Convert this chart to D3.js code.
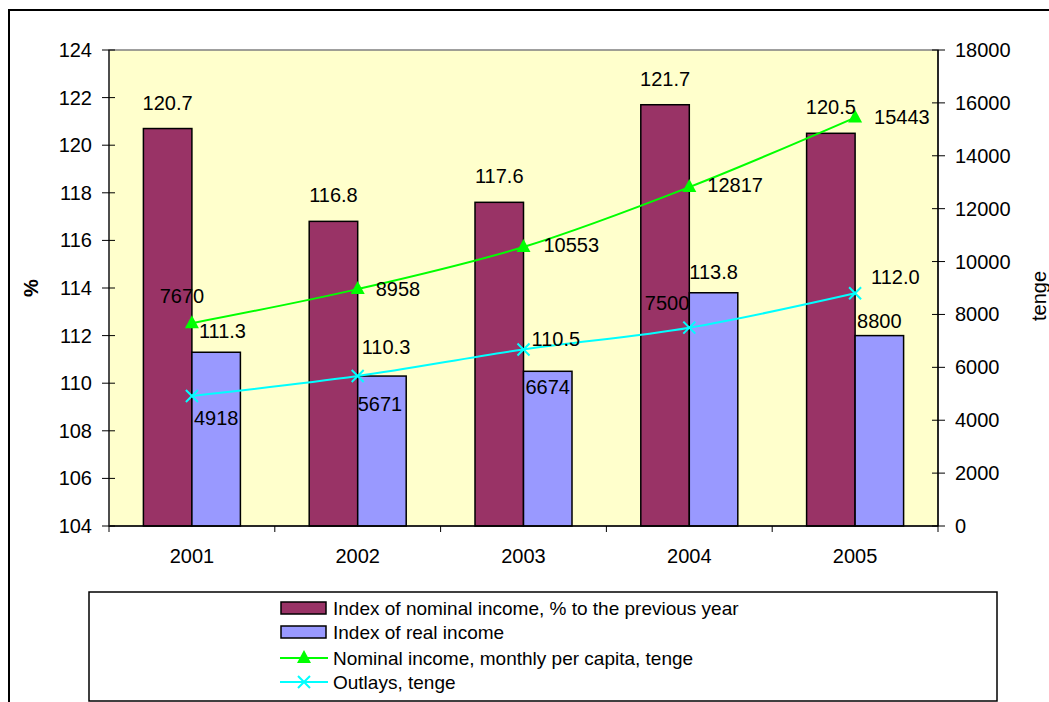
<!DOCTYPE html>
<html>
<head>
<meta charset="utf-8">
<style>
body { margin: 0; background: #fff; }
svg text { font-family: Arial, "Liberation Sans", sans-serif; fill: #000; }
</style>
</head>
<body>
<svg width="1049" height="702"></svg>
<script src="https://d3js.org/d3.v7.min.js"></script>
<script>
// chart data
var years = ["2001", "2002", "2003", "2004", "2005"];
var nominalIndex = [120.7, 116.8, 117.6, 121.7, 120.5];
var realIndex = [111.3, 110.3, 110.5, 113.8, 112.0];
var nominalIncome = [7670, 8958, 10553, 12817, 15443];
var outlays = [4918, 5671, 6674, 7500, 8800];
var leftTicks = d3.range(104, 125, 2);
var rightTicks = d3.range(0, 18001, 2000);
var seriesNames = ["Index of nominal income, % to the previous year", "Index of real income",
                   "Nominal income, monthly per capita, tenge", "Outlays, tenge"];

// label placement (dx, dy, anchor) as in the original, labels were nudged by hand
var realLabelNudge = [[7, -21], [4, -29], [8, -32], [0, -21], [16, -59]];
var nominalLineLabel = [[-10, -27, "middle"], [18, 0, "start"], [20, -2, "start"], [18, -2, "start"], [19, -1, "start"]];
var outlayLabel = [[2, 22, "start"], [0, 28, "start"], [2, 37, "start"], [0, -25, "end"], [2, 28, "start"]];

var svg = d3.select("svg");
var fs = 20, legendFs = 19;
var plot = {left: 109, top: 50, right: 938, bottom: 526};

// outer frame
svg.append("rect").attr("x", 9).attr("y", 10).attr("width", 1100).attr("height", 800)
  .attr("fill", "#fff").attr("stroke", "#000").attr("stroke-width", 2);

var x = d3.scaleBand().domain(years).range([plot.left, plot.right]);
var yL = d3.scaleLinear().domain([104, 124]).range([plot.bottom, plot.top]);
var yR = d3.scaleLinear().domain([0, 18000]).range([plot.bottom, plot.top]);
var barW = 48.5, gap = (x.bandwidth() - 2 * barW) / 2;

// plot area
svg.append("rect").attr("x", plot.left).attr("y", plot.top)
  .attr("width", plot.right - plot.left).attr("height", plot.bottom - plot.top)
  .attr("fill", "#FFFFCC").attr("stroke", "#808080").attr("stroke-width", 1.5);

// bars
var g = svg.append("g");
g.selectAll(".nom").data(nominalIndex).enter().append("rect")
  .attr("x", (d, i) => x(years[i]) + gap).attr("width", barW)
  .attr("y", d => yL(d)).attr("height", d => plot.bottom - yL(d))
  .attr("fill", "#993366").attr("stroke", "#000").attr("stroke-width", 1.5);
g.selectAll(".real").data(realIndex).enter().append("rect")
  .attr("x", (d, i) => x(years[i]) + gap + barW).attr("width", barW)
  .attr("y", d => yL(d)).attr("height", d => plot.bottom - yL(d))
  .attr("fill", "#9999FF").attr("stroke", "#000").attr("stroke-width", 1.5);

// axes lines + ticks
svg.append("line").attr("x1", plot.left).attr("x2", plot.right).attr("y1", plot.bottom).attr("y2", plot.bottom)
  .attr("stroke", "#000").attr("stroke-width", 1.5);
svg.append("line").attr("x1", plot.right).attr("x2", plot.right).attr("y1", plot.top).attr("y2", plot.bottom)
  .attr("stroke", "#000").attr("stroke-width", 1.5);
svg.append("line").attr("x1", plot.left).attr("x2", plot.left).attr("y1", plot.top).attr("y2", plot.bottom)
  .attr("stroke", "#333").attr("stroke-width", 1.5);

leftTicks.forEach(function(t) {
  svg.append("line").attr("x1", plot.left - 7).attr("x2", plot.left + 6)
    .attr("y1", yL(t)).attr("y2", yL(t)).attr("stroke", "#000");
  svg.append("text").attr("x", 92).attr("y", yL(t)).attr("dy", "0.35em")
    .attr("text-anchor", "end").attr("font-size", fs).text(t);
});
rightTicks.forEach(function(t) {
  svg.append("line").attr("x1", plot.right - 6).attr("x2", plot.right + 7)
    .attr("y1", yR(t)).attr("y2", yR(t)).attr("stroke", "#000");
  svg.append("text").attr("x", 955).attr("y", yR(t)).attr("dy", "0.35em")
    .attr("font-size", fs).text(t);
});
d3.range(years.length + 1).forEach(function(i) {
  var xx = plot.left + i * x.step();
  svg.append("line").attr("x1", xx).attr("x2", xx).attr("y1", plot.bottom).attr("y2", plot.bottom + 6)
    .attr("stroke", "#000");
});
years.forEach(function(yr) {
  svg.append("text").attr("x", x(yr) + x.bandwidth() / 2).attr("y", 556).attr("dy", "0.35em")
    .attr("text-anchor", "middle").attr("font-size", fs).text(yr);
});

// axis titles
svg.append("text").attr("transform", "translate(31,288) rotate(-90)").attr("text-anchor", "middle")
  .attr("dy", "0.35em").attr("font-size", fs).attr("font-weight", "bold").text("%");
svg.append("text").attr("transform", "translate(1039,296) rotate(-90)").attr("text-anchor", "middle")
  .attr("dy", "0.35em").attr("font-size", fs).text("tenge");

// lines
var cx = d => x(d) + x.bandwidth() / 2;
var lineGen = d3.line().curve(d3.curveCatmullRom.alpha(0.5));
svg.append("path").attr("d", lineGen(nominalIncome.map((v, i) => [cx(years[i]), yR(v)])))
  .attr("fill", "none").attr("stroke", "#00FF00").attr("stroke-width", 2);
svg.append("path").attr("d", lineGen(outlays.map((v, i) => [cx(years[i]), yR(v)])))
  .attr("fill", "none").attr("stroke", "#00FFFF").attr("stroke-width", 2);

function triangle(px, py) {
  return "M" + px + "," + (py - 8) + "L" + (px + 7) + "," + (py + 5) + "L" + (px - 7) + "," + (py + 5) + "Z";
}
function cross(sel, px, py, col) {
  sel.append("path").attr("d", "M" + (px - 6) + "," + (py - 6) + "L" + (px + 6) + "," + (py + 6) +
      "M" + (px + 6) + "," + (py - 6) + "L" + (px - 6) + "," + (py + 6))
    .attr("stroke", col).attr("stroke-width", 2);
}
nominalIncome.forEach(function(v, i) {
  svg.append("path").attr("d", triangle(cx(years[i]), yR(v))).attr("fill", "#00FF00");
});
outlays.forEach(function(v, i) {
  cross(svg, cx(years[i]), yR(v), "#00FFFF");
});

// data labels
nominalIndex.forEach(function(v, i) {
  svg.append("text").attr("x", x(years[i]) + gap + barW / 2).attr("y", yL(v) - 26).attr("dy", "0.35em")
    .attr("text-anchor", "middle").attr("font-size", fs).text(v.toFixed(1));
});
realIndex.forEach(function(v, i) {
  var n = realLabelNudge[i];
  svg.append("text").attr("x", x(years[i]) + gap + barW + n[0]).attr("y", yL(v) + n[1]).attr("dy", "0.35em")
    .attr("font-size", fs).text(v.toFixed(1));
});
nominalIncome.forEach(function(v, i) {
  var n = nominalLineLabel[i];
  svg.append("text").attr("x", cx(years[i]) + n[0]).attr("y", yR(v) + n[1]).attr("dy", "0.35em")
    .attr("text-anchor", n[2]).attr("font-size", fs).text(v);
});
outlays.forEach(function(v, i) {
  var n = outlayLabel[i];
  svg.append("text").attr("x", cx(years[i]) + n[0]).attr("y", yR(v) + n[1]).attr("dy", "0.35em")
    .attr("text-anchor", n[2]).attr("font-size", fs).text(v);
});

// legend
var lg = svg.append("g");
lg.append("rect").attr("x", 89).attr("y", 592).attr("width", 908).attr("height", 109)
  .attr("fill", "#fff").attr("stroke", "#000").attr("stroke-width", 1.5);
var rowY = [608, 632, 658, 682];
["#993366", "#9999FF"].forEach(function(c, i) {
  lg.append("rect").attr("x", 281).attr("y", rowY[i] - 6).attr("width", 45).attr("height", 12)
    .attr("fill", c).attr("stroke", "#000").attr("stroke-width", 1.5);
});
lg.append("line").attr("x1", 280).attr("x2", 328).attr("y1", rowY[2]).attr("y2", rowY[2])
  .attr("stroke", "#00FF00").attr("stroke-width", 2);
lg.append("path").attr("d", triangle(304, rowY[2])).attr("fill", "#00FF00");
lg.append("line").attr("x1", 280).attr("x2", 328).attr("y1", rowY[3]).attr("y2", rowY[3])
  .attr("stroke", "#00FFFF").attr("stroke-width", 2);
cross(lg, 304, rowY[3], "#00FFFF");
seriesNames.forEach(function(s, i) {
  lg.append("text").attr("x", 333).attr("y", rowY[i]).attr("dy", "0.35em")
    .attr("font-size", legendFs).text(s);
});
</script>
</body>
</html>
